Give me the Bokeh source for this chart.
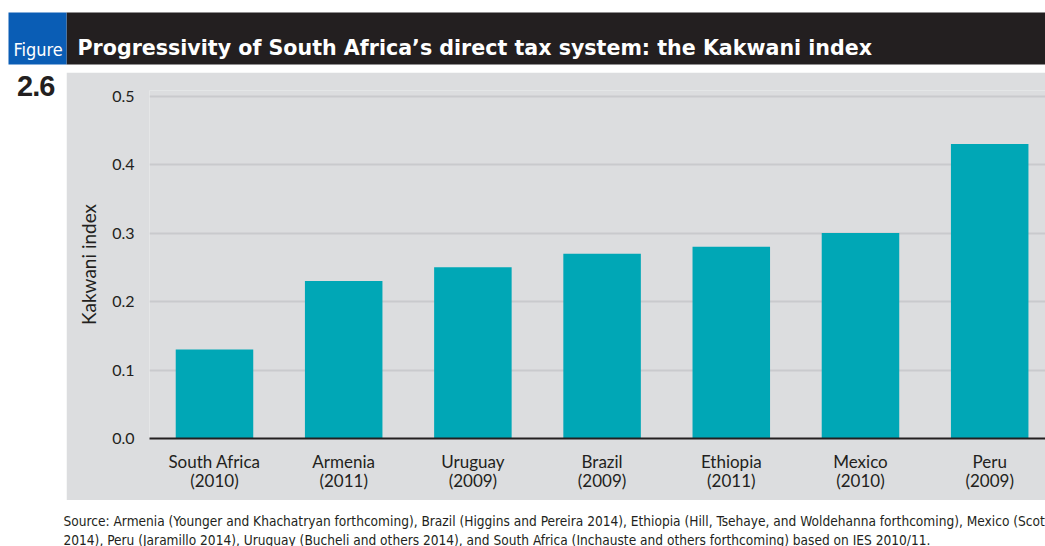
from bokeh.plotting import figure
from bokeh.layouts import column, row
from bokeh.models import Range1d, FixedTicker, Label, PrintfTickFormatter, Div
from bokeh.embed import file_html
from bokeh.resources import INLINE

# ---- data ----
countries = ["South Africa", "Armenia", "Uruguay", "Brazil", "Ethiopia", "Mexico", "Peru"]
years = ["2010", "2011", "2009", "2009", "2011", "2010", "2009"]
kakwani = [0.13, 0.23, 0.25, 0.27, 0.28, 0.30, 0.43]
y_ticks = [0.0, 0.1, 0.2, 0.3, 0.4, 0.5]

title_text = "Progressivity of South Africa’s direct tax system: the Kakwani index"
fig_word = "Figure"
fig_number = "2.6"
y_label = "Kakwani index"
source_lines = [
    "Source: Armenia (Younger and Khachatryan forthcoming), Brazil (Higgins and Pereira 2014), Ethiopia (Hill, Tsehaye, and Woldehanna forthcoming), Mexico (Scott",
    "2014), Peru (Jaramillo 2014), Uruguay (Bucheli and others 2014), and South Africa (Inchauste and others forthcoming) based on IES 2010/11.",
]

# ---- style ----
DARK = "#231f20"
BLUE = "#0a5db5"
GRAY = "#dcdddf"
GRID = "#c9cacd"
TEAL = "#00a7b6"
AX_FONT = "Lato"
NARROW = "'DejaVu Sans Condensed', sans-serif"

W, H = 1045, 546
HEAD_H, FOOT_H, LEFT_W = 72, 46, 66
MID_H = H - HEAD_H - FOOT_H


def blank(width, height):
    # helper figure whose data units are local pixels, y measured downward from its top
    f = figure(width=width, height=height, output_backend="svg", toolbar_location=None, title=None,
               x_range=Range1d(0, width), y_range=Range1d(height, 0),
               x_axis_location=None, y_axis_location=None, min_border=0)
    f.outline_line_color = None
    f.grid.visible = False
    f.background_fill_color = "white"
    f.border_fill_color = "white"
    return f


# ---- header ----
head = blank(W, HEAD_H)
head.quad(left=[66], right=[W], top=[12], bottom=[64], fill_color=DARK, line_color=None)
head.quad(left=[8], right=[66], top=[12], bottom=[64], fill_color=BLUE, line_color=None)
head.add_layout(Label(x=13, y=49, text=fig_word, text_color="white",
                      text_font=NARROW, text_font_size="18px", text_baseline="middle"))
head.add_layout(Label(x=77, y=47, text=title_text, text_color="white",
                      text_font="DejaVu Sans", text_font_size="20.6px", text_font_style="bold",
                      text_baseline="middle"))

# ---- left strip with figure number ----
left = Div(text=fig_number, width=LEFT_W, height=MID_H,
           styles={"font-family": "'Liberation Sans', sans-serif", "font-size": "29px",
                   "font-weight": "bold", "color": DARK, "line-height": "29px",
                   "padding-left": "17px", "padding-top": "0px", "margin": "0px",
                   "box-sizing": "border-box", "background": "white", "letter-spacing": "-1px"})

# ---- main chart ----
x = list(range(len(countries)))
p = figure(width=W - LEFT_W, height=MID_H, output_backend="svg", toolbar_location=None, title=None,
           x_range=Range1d(-0.503, 6.432), y_range=Range1d(0, 0.5083),
           min_border_left=83, min_border_right=0, min_border_top=18, min_border_bottom=62)
p.outline_line_color = None
p.background_fill_color = GRAY
p.border_fill_color = GRAY

p.vbar(x=x, top=kakwani, width=0.6, fill_color=TEAL, line_color=None)

p.xgrid.visible = False
p.ygrid.grid_line_color = GRID
p.ygrid.grid_line_width = 2
p.ygrid.ticker = FixedTicker(ticks=y_ticks)

p.yaxis.ticker = FixedTicker(ticks=y_ticks)
p.yaxis.formatter = PrintfTickFormatter(format="%.1f")
p.yaxis.axis_line_color = None
p.yaxis.major_tick_line_color = None
p.yaxis.minor_tick_line_color = None
p.yaxis.major_tick_out = 0
p.yaxis.major_label_standoff = 15
p.yaxis.major_label_text_font = AX_FONT
p.yaxis.major_label_text_font_size = "16px"
p.yaxis.major_label_text_color = DARK
p.yaxis.axis_label = y_label
p.yaxis.axis_label_text_font = AX_FONT
p.yaxis.axis_label_text_font_size = "19px"
p.yaxis.axis_label_text_font_style = "normal"
p.yaxis.axis_label_text_color = DARK
p.yaxis.axis_label_standoff = 9

p.xaxis.ticker = FixedTicker(ticks=x)
p.xaxis.major_label_overrides = {i: f"{c}\n({yr})" for i, c, yr in zip(x, countries, years)}
p.xaxis.axis_line_color = DARK
p.xaxis.axis_line_width = 2
p.xaxis.major_tick_line_color = None
p.xaxis.minor_tick_line_color = None
p.xaxis.major_tick_out = 0
p.xaxis.major_label_standoff = 12
p.xaxis.major_label_text_font = AX_FONT
p.xaxis.major_label_text_font_size = "17px"
p.xaxis.major_label_text_line_height = 0.93
p.xaxis.major_label_text_color = DARK

# ---- footer ----
foot = blank(W, FOOT_H)
for i, line in enumerate(source_lines):
    foot.add_layout(Label(x=63, y=20 + 19 * i, text=line, text_color=DARK,
                          text_font=NARROW, text_font_size="13.6px", text_baseline="middle"))

layout = column(head, row(left, p), foot)
open("out.html", "w").write(file_html(layout, INLINE))
